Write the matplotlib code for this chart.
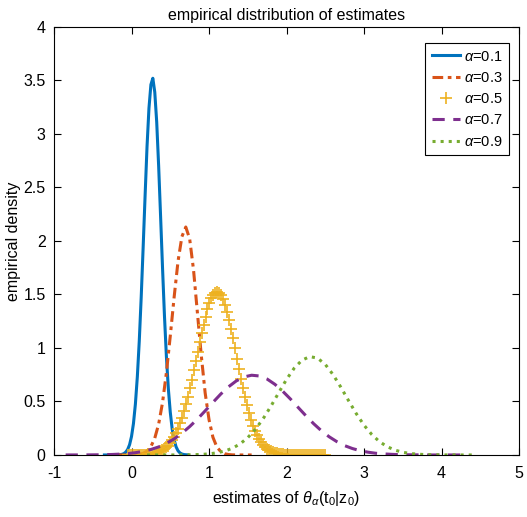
import numpy as np
import matplotlib.pyplot as plt
from matplotlib.ticker import FormatStrFormatter

plt.rcParams['font.family'] = ['Liberation Sans', 'DejaVu Sans']
plt.rcParams['mathtext.fontset'] = 'custom'
plt.rcParams['mathtext.rm'] = 'Liberation Sans'
plt.rcParams['mathtext.it'] = 'Liberation Sans:italic'
plt.rcParams['axes.unicode_minus'] = False

# ---- data ----
labels = ['0.1', '0.3', '0.5', '0.7', '0.9']

# alpha = 0.1
x01 = np.linspace(-0.35, 0.725, 44)
y01 = [0, 0, 0, 0, 0, 0, 0.0004, 0.001, 0.0024, 0.0056, 0.012, 0.026, 0.051,
       0.096, 0.173, 0.294, 0.476, 0.731, 1.065, 1.476, 1.94, 2.42, 2.88,
       3.24, 3.46, 3.52, 3.39, 3.11, 2.70, 2.23, 1.75, 1.30, 0.92, 0.62,
       0.40, 0.24, 0.14, 0.076, 0.039, 0.019, 0.009, 0.004, 0.002, 0.001]

# alpha = 0.3
x03 = np.linspace(-0.2, 1.55, 36)
y03 = [0, 0, 0, 0.0002, 0.0007, 0.0021, 0.006, 0.015, 0.036, 0.078, 0.157,
       0.288, 0.489, 0.768, 1.112, 1.476, 1.81, 2.04, 2.13, 2.02, 1.73, 1.33,
       0.93, 0.58, 0.33, 0.166, 0.076, 0.032, 0.012, 0.004, 0.001, 0, 0, 0,
       0, 0]

# alpha = 0.5
x05 = np.linspace(-0.05, 2.5, 100)
y05 = [0.0001, 0.0002, 0.0003, 0.0005, 0.0007, 0.001, 0.0015, 0.0021, 0.003,
       0.004, 0.006, 0.008, 0.011, 0.014, 0.019, 0.025, 0.033, 0.043, 0.055,
       0.070, 0.088, 0.110, 0.137, 0.167, 0.204, 0.246, 0.294, 0.348, 0.408,
       0.474, 0.545, 0.622, 0.704, 0.790, 0.877, 0.965, 1.053, 1.137, 1.218,
       1.293, 1.360, 1.417, 1.463, 1.498, 1.518, 1.526, 1.518, 1.495, 1.456,
       1.404, 1.339, 1.264, 1.180, 1.090, 0.996, 0.901, 0.806, 0.714, 0.626,
       0.542, 0.465, 0.395, 0.331, 0.275, 0.226, 0.184, 0.148, 0.118, 0.093,
       0.074, 0.058, 0.045, 0.035, 0.027, 0.020, 0.015, 0.011, 0.008, 0.006,
       0.004, 0.003, 0.002, 0.002, 0.001, 0.001, 0.001, 0.001, 0, 0, 0, 0,
       0, 0, 0, 0, 0, 0, 0, 0, 0]

# alpha = 0.7
x07 = np.linspace(-0.85, 4.35, 53)
y07 = [0.0001, 0.0002, 0.0004, 0.0007, 0.0014, 0.0026, 0.0045, 0.0079, 0.013,
       0.021, 0.034, 0.051, 0.075, 0.108, 0.150, 0.203, 0.265, 0.335, 0.412,
       0.491, 0.568, 0.636, 0.691, 0.729, 0.745, 0.738, 0.709, 0.660, 0.596,
       0.523, 0.444, 0.366, 0.292, 0.226, 0.170, 0.124, 0.087, 0.060, 0.040,
       0.026, 0.016, 0.010, 0.006, 0.003, 0.002, 0.001, 0.001, 0, 0, 0, 0,
       0, 0]

# alpha = 0.9
x09 = np.linspace(0.2, 4.4, 43)
y09 = [0, 0, 0.0001, 0.0002, 0.0004, 0.0011, 0.0023, 0.005, 0.010, 0.020,
       0.036, 0.062, 0.103, 0.162, 0.241, 0.341, 0.457, 0.583, 0.706, 0.812,
       0.886, 0.919, 0.905, 0.846, 0.751, 0.634, 0.508, 0.386, 0.278, 0.191,
       0.124, 0.077, 0.045, 0.025, 0.013, 0.007, 0.003, 0.0015, 0.0007,
       0.0003, 0, 0, 0]

fig = plt.figure(figsize=(5.27, 5.17), dpi=100)
ax = fig.add_axes([0.1025, 0.12, 0.8824, 0.828])

lw = 2.2
ax.plot(x01, y01, '-', color='#0072BD', lw=lw, label=r'$\alpha$=' + labels[0])
ax.plot(x03, y03, color='#D95319', lw=lw, dashes=(3.5, 1.5, 1.2, 1.5),
        label=r'$\alpha$=' + labels[1])
ax.plot(x05, y05, '+', color='#EDB120', ms=8, mew=1.2, label=r'$\alpha$=' + labels[2])
ax.plot(x07, y07, color='#7E2F8E', lw=lw, dashes=(4, 2.8),
        label=r'$\alpha$=' + labels[3])
ax.plot(x09, y09, ':', color='#77AC30', lw=lw, label=r'$\alpha$=' + labels[4])

ax.set_xlim(-1, 5)
ax.set_ylim(0, 4)
ax.set_xticks(np.arange(-1, 6, 1))
ax.set_yticks(np.arange(0, 4.01, 0.5))
ax.yaxis.set_major_formatter(FormatStrFormatter('%g'))
ax.tick_params(direction='in', top=True, right=True, length=5, labelsize=11.5,
               width=0.8)
ax.tick_params(axis='x', pad=8)
ax.tick_params(axis='y', pad=6)
for s in ax.spines.values():
    s.set_linewidth(0.8)

ax.set_title('empirical distribution of estimates', fontsize=11.5, pad=5)
ax.set_xlabel(r'estimates of $\theta_\alpha$(t$_0$|z$_0$)', fontsize=11.5,
              labelpad=6)
ax.set_ylabel('empirical density', fontsize=11.5)
ax.yaxis.set_label_coords(-0.072, 0.5)

leg = ax.legend(loc='upper right', bbox_to_anchor=(509 / 527, 1 - 43 / 517),
                bbox_transform=fig.transFigure, borderaxespad=0,
                fontsize=10.5, fancybox=False, framealpha=1, edgecolor='black',
                handlelength=1.9, handletextpad=0.3, labelspacing=0.5,
                borderpad=0.45)
leg.get_frame().set_linewidth(0.8)

fig.savefig('out.png', dpi=100)
